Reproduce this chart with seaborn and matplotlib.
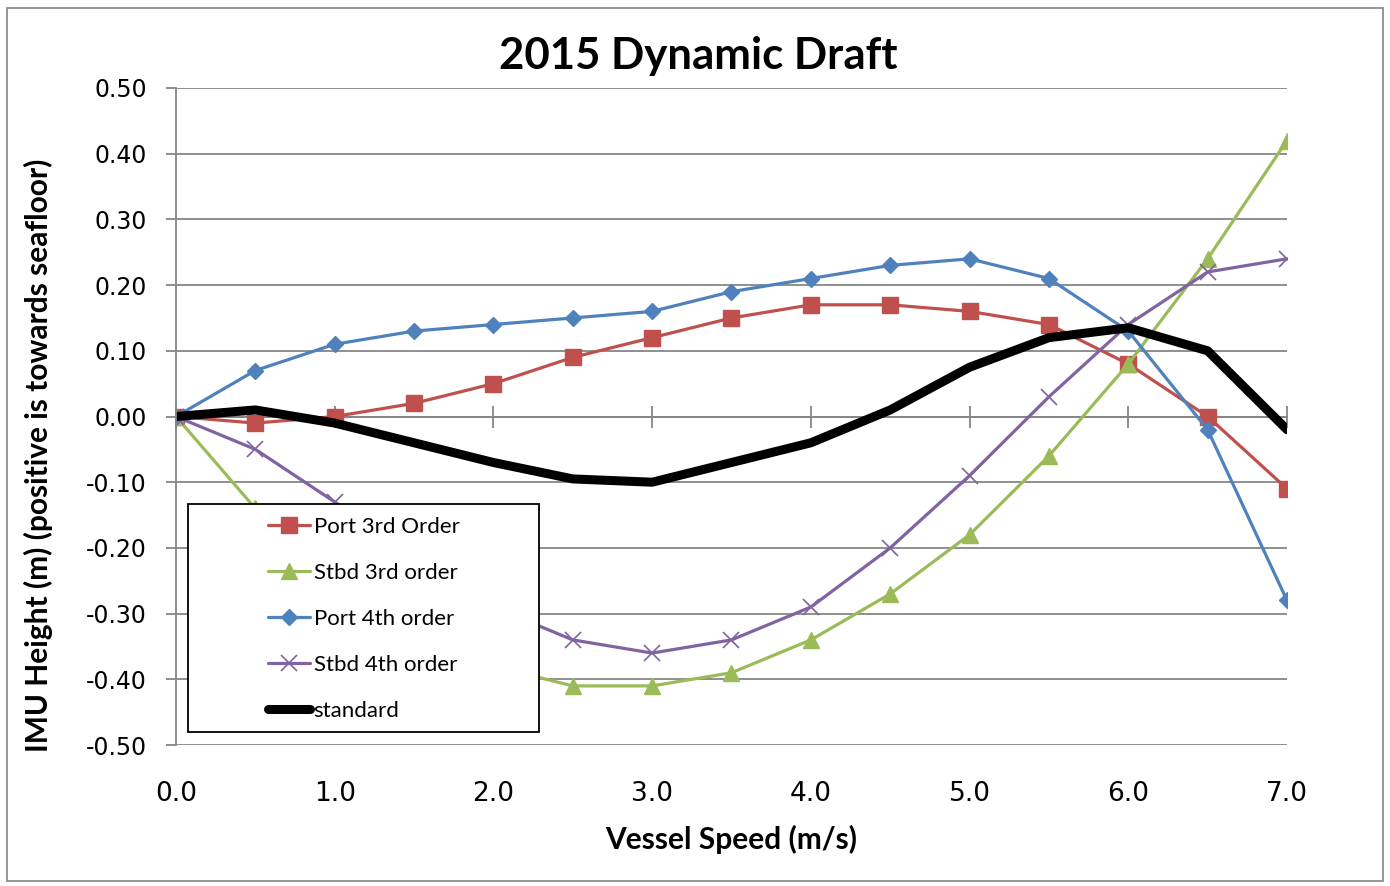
import pandas as pd
import numpy as np
import seaborn as sns
import matplotlib.pyplot as plt
from matplotlib.patches import Rectangle

# values
speed = [0.0, 0.5, 1.0, 1.5, 2.0, 2.5, 3.0, 3.5, 4.0, 4.5, 5.0, 5.5, 6.0, 6.5, 7.0]
port_3rd = [0.00, -0.01, 0.00, 0.02, 0.05, 0.09, 0.12, 0.15, 0.17, 0.17, 0.16, 0.14, 0.08, 0.00, -0.11]
stbd_3rd = [0.00, -0.14, -0.24, -0.32, -0.38, -0.41, -0.41, -0.39, -0.34, -0.27, -0.18, -0.06, 0.08, 0.24, 0.42]
port_4th = [0.00, 0.07, 0.11, 0.13, 0.14, 0.15, 0.16, 0.19, 0.21, 0.23, 0.24, 0.21, 0.13, -0.02, -0.28]
stbd_4th = [0.00, -0.05, -0.13, -0.21, -0.29, -0.34, -0.36, -0.34, -0.29, -0.20, -0.09, 0.03, 0.14, 0.22, 0.24]
standard = [0.00, 0.01, -0.01, -0.04, -0.07, -0.095, -0.10, -0.07, -0.04, 0.01, 0.075, 0.12, 0.135, 0.10, -0.02]

series_names = ["Port 3rd Order", "Stbd 3rd order", "Port 4th order", "Stbd 4th order", "standard"]
x_ticks = [0, 1, 2, 3, 4, 5, 6, 7]
y_ticks = [-0.5, -0.4, -0.3, -0.2, -0.1, 0.0, 0.1, 0.2, 0.3, 0.4, 0.5]

df = pd.DataFrame({
    "speed": speed,
    "Port 3rd Order": port_3rd,
    "Stbd 3rd order": stbd_3rd,
    "Port 4th order": port_4th,
    "Stbd 4th order": stbd_4th,
    "standard": standard,
})
long_df = df.melt(id_vars="speed", var_name="series", value_name="height")

sns.set_theme(style="white")
plt.rcParams['font.family'] = ['Lato', 'DejaVu Sans']
plt.rcParams['text.color'] = 'black'
plt.rcParams['axes.labelcolor'] = 'black'
plt.rcParams['xtick.labelcolor'] = 'black'
plt.rcParams['ytick.labelcolor'] = 'black'

grid_col = '#868686'

fig, ax = plt.subplots(figsize=(13.9, 8.86), dpi=100)
fig.subplots_adjust(left=0.1266, right=0.9259, top=0.9007, bottom=0.1591)

styles = {
    "Port 3rd Order": dict(color="#C0504D", marker="s", markersize=11, linewidth=2.3),
    "Stbd 3rd order": dict(color="#9BBB59", marker="^", markersize=11, linewidth=2.3),
    "Port 4th order": dict(color="#4F81BD", marker="D", markersize=8, linewidth=2.3),
    "Stbd 4th order": dict(color="#8064A2", marker="x", markersize=11, linewidth=2.3, markeredgewidth=1.2),
    "standard": dict(color="black", linewidth=6.5, solid_capstyle='round'),
}

for name in series_names:
    sub = long_df[long_df["series"] == name]
    st = dict(styles[name])
    if "marker" in st:
        st.setdefault("markeredgecolor", st["color"])
        st.setdefault("markeredgewidth", 1)
    sns.lineplot(data=sub, x="speed", y="height", ax=ax, label=name, **st)

ax.set_xlim(0, 7)
ax.set_ylim(-0.5, 0.5)

# horizontal gridlines only
ax.yaxis.grid(True, color=grid_col, linewidth=1.3)
ax.xaxis.grid(False)
for s in ['top', 'right', 'bottom']:
    ax.spines[s].set_visible(False)
ax.spines['left'].set_color(grid_col)
ax.spines['left'].set_linewidth(1.3)

ax.set_yticks(y_ticks)
ax.set_yticklabels([f"{v:.2f}" for v in y_ticks], family=['DejaVu Sans'], fontsize=17)
ax.tick_params(axis='y', direction='out', length=7, width=1.3, color=grid_col, pad=14, left=True)

ax.set_xticks(x_ticks)
ax.set_xticklabels([f"{v:.1f}" for v in x_ticks], family=['Liberation Sans Narrow', 'DejaVu Sans'], fontsize=19)
ax.tick_params(axis='x', length=0, pad=26)

# the category axis crosses at y = 0 with tick marks through it
sec = ax.secondary_xaxis(0.5)
sec.set_xticks(x_ticks)
sec.tick_params(direction='inout', length=16, width=1.3, color=grid_col, labelbottom=False, labeltop=False)
for s in sec.spines.values():
    s.set_color(grid_col)
    s.set_linewidth(1.3)

ax.set_xlabel("Vessel Speed (m/s)", fontsize=21.5, fontweight='bold')
ax.xaxis.set_label_coords(0.4995, -0.122)
ax.set_ylabel("IMU Height (m) (positive is towards seafloor)", fontsize=21.5, fontweight='bold')
ax.yaxis.set_label_coords(-0.111, 0.441)

fig.text(0.502, 1 - 69 / 886, "2015 Dynamic Draft", ha='center', va='baseline',
         fontsize=31.5, fontweight='bold')

# legend box
ax.add_patch(Rectangle((0.0108, 0.0198), 0.3159, 0.347, transform=ax.transAxes,
                       facecolor='white', edgecolor='black', linewidth=1.3, zorder=4))
leg = ax.legend(loc='upper left', bbox_to_anchor=(0.0828, 0.347), frameon=False,
                fontsize=16, handlelength=1.9, handletextpad=0.15, labelspacing=1.17,
                borderpad=0, borderaxespad=0, numpoints=1)
leg.set_zorder(5)

fig.add_artist(Rectangle((0.005, 0.006), 0.99, 0.985, transform=fig.transFigure,
                         fill=False, edgecolor='#8c8c8c', linewidth=1.3))

plt.savefig("out.png", dpi=100)
